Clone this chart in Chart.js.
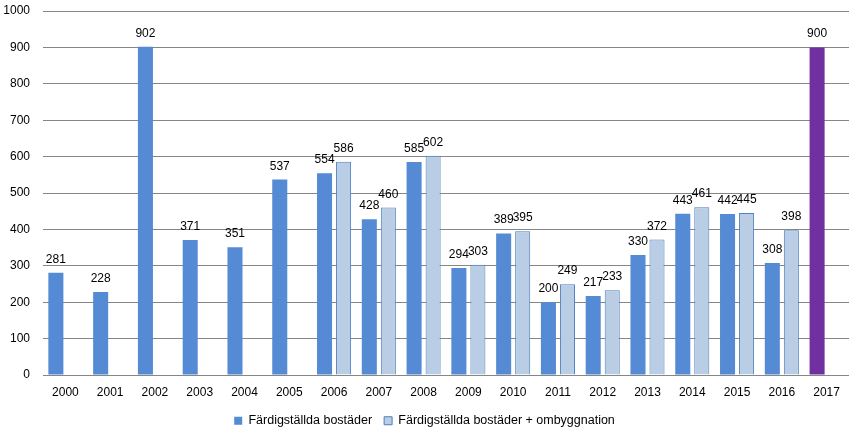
<!DOCTYPE html>
<html>
<head>
<meta charset="utf-8">
<script src="https://cdn.jsdelivr.net/npm/chart.js@4/dist/chart.umd.min.js"></script>
<style>
  html, body { margin: 0; padding: 0; background: #fff; }
  #wrap { width: 854px; height: 439px; }
</style>
</head>
<body>
<div id="wrap"><canvas id="chart"></canvas></div>
<script>
const years = ['2000', '2001', '2002', '2003', '2004', '2005', '2006', '2007', '2008',
  '2009', '2010', '2011', '2012', '2013', '2014', '2015', '2016', '2017'];
const completed = [281, 228, 902, 371, 351, 537, 554, 428, 585, 294, 389, 200, 217, 330, 443, 442, 308, 900];
const withRebuild = [null, null, null, null, null, null, 586, 460, 602, 303, 395, 249, 233, 372, 461, 445, 398, null];
const highlightYear = '2017';

const FONT = { family: '"Liberation Sans", Arial, sans-serif', size: 12 };

// numbers above each bar
const valueLabels = {
  id: 'valueLabels',
  afterDatasetsDraw(chart) {
    const ctx = chart.ctx;
    ctx.save();
    ctx.font = FONT.size + 'px ' + FONT.family;
    ctx.fillStyle = '#000';
    ctx.textAlign = 'center';
    ctx.textBaseline = 'alphabetic';
    chart.data.datasets.forEach((ds, i) => {
      chart.getDatasetMeta(i).data.forEach((bar, j) => {
        const v = ds.data[j];
        if (v === null || v === undefined) return;
        ctx.fillText(String(v), bar.x, bar.y - 10);
      });
    });
    ctx.restore();
  }
};

new Chart(document.getElementById('chart'), {
  type: 'bar',
  data: {
    labels: years,
    datasets: [
      {
        label: 'Färdigställda bostäder',
        data: completed,
        backgroundColor: years.map(y => y === highlightYear ? '#7030a0' : '#558ad5'),
        borderWidth: 0
      },
      {
        label: 'Färdigställda bostäder + ombyggnation',
        data: withRebuild,
        backgroundColor: '#b9cde5',
        borderColor: '#4f7fbe',
        borderWidth: 1
      }
    ]
  },
  options: {
    responsive: true,
    maintainAspectRatio: false,
    animation: false,
    categoryPercentage: 0.85,
    barPercentage: 0.79,
    layout: { padding: { top: 11, right: 5, left: 0, bottom: 2 } },
    plugins: {
      legend: {
        position: 'bottom',
        labels: {
          color: '#000',
          font: { family: FONT.family, size: 12.5 },
          boxWidth: 8,
          boxHeight: 8,
          padding: 12
        }
      },
      tooltip: { enabled: false }
    },
    scales: {
      x: {
        grid: { display: false, drawTicks: false },
        border: { display: false },
        ticks: { color: '#000', font: FONT, padding: 10, maxRotation: 0 },
        afterFit: s => { s.height = 27.5; }
      },
      y: {
        min: 0,
        max: 1000,
        ticks: { stepSize: 100, color: '#000', font: FONT, padding: 13, callback: v => String(v) },
        grid: { color: '#868686', drawTicks: false },
        border: { display: false },
        afterFit: s => { s.width = 43; s.paddingTop = 0; s.paddingBottom = 0; }
      }
    }
  },
  plugins: [valueLabels]
});
</script>
</body>
</html>
